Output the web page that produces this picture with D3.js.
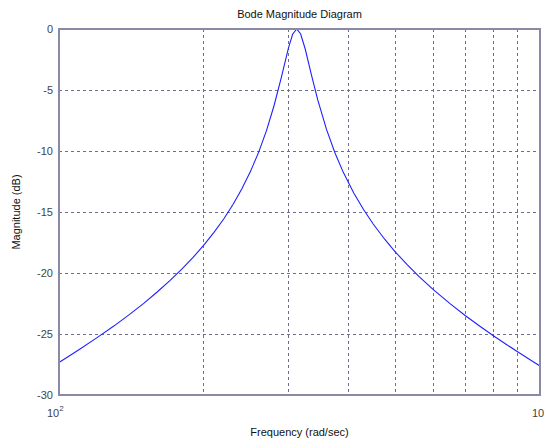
<!DOCTYPE html>
<html>
<head>
<meta charset="utf-8">
<script src="https://cdn.jsdelivr.net/npm/d3@7"></script>
<style>
  html, body { margin: 0; padding: 0; background: #ffffff; }
  svg { display: block; }
  text { font-family: Arial, "Liberation Sans", Helvetica, sans-serif; }
</style>
</head>
<body>
<svg id="chart" width="545" height="442"></svg>
<script>
// Frequency response samples (rad/sec) and magnitude (dB)
const frequency = [100, 110, 120, 130, 140, 150, 160, 170, 180, 190, 200, 210, 220, 230, 240, 250,
  260, 270, 280, 290, 300, 306, 312, 318, 325, 335, 345, 360, 375, 390, 410, 430, 450, 475, 500,
  530, 560, 600, 650, 700, 750, 800, 850, 900, 950, 1000];
const magnitude = [-27.33, -26.29, -25.30, -24.35, -23.41, -22.49, -21.56, -20.63, -19.69, -18.72,
  -17.72, -16.67, -15.57, -14.38, -13.10, -11.69, -10.11, -8.33, -6.27, -3.94, -1.54, -0.43, 0.0,
  -0.41, -1.64, -3.80, -5.79, -8.25, -10.18, -11.75, -13.44, -14.82, -15.98, -17.21, -18.26,
  -19.34, -20.27, -21.36, -22.51, -23.50, -24.37, -25.14, -25.84, -26.48, -27.07, -27.62];

// Axis ticks and labels
const yTicks = [0, -5, -10, -15, -20, -25, -30];
const xGridValues = [200, 300, 400, 500, 600, 700, 800, 900];
const xLabelValues = [100, 1000];
const xLabelBase = ["10", "10"];
const xLabelExp = ["2", ""];

const titleText = "Bode Magnitude Diagram";
const xTitle = "Frequency (rad/sec)";
const yTitle = "Magnitude (dB)";

const svg = d3.select("#chart");
const plotLeft = 59, plotRight = 540, plotTop = 29, plotBottom = 395;

const x = d3.scaleLog().domain([100, 1000]).range([plotLeft, plotRight]);
const y = d3.scaleLinear().domain([-30, 0]).range([plotBottom, plotTop]);

const axisColor = "#8a8aa6";
const gridColor = "#6e6e8c";
const textColor = "#444444";

// Grid lines
const grid = svg.append("g");
grid.selectAll("line.gx").data(xGridValues).join("line")
  .attr("class", "gx")
  .attr("x1", d => x(d)).attr("x2", d => x(d))
  .attr("y1", plotTop).attr("y2", plotBottom)
  .attr("stroke", gridColor).attr("stroke-width", 1)
  .attr("stroke-dasharray", "3,3").attr("shape-rendering", "crispEdges");
grid.selectAll("line.gy").data(yTicks.filter(d => d !== 0 && d !== -30)).join("line")
  .attr("class", "gy")
  .attr("x1", plotLeft).attr("x2", plotRight)
  .attr("y1", d => y(d)).attr("y2", d => y(d))
  .attr("stroke", gridColor).attr("stroke-width", 1)
  .attr("stroke-dasharray", "3,3").attr("shape-rendering", "crispEdges");

// Response curve
const line = d3.line()
  .x((d, i) => x(frequency[i]))
  .y(d => y(d));
svg.append("path")
  .datum(magnitude)
  .attr("d", line)
  .attr("fill", "none")
  .attr("stroke", "#2020ff")
  .attr("stroke-width", 1.1);

// Plot box
svg.append("rect")
  .attr("x", plotLeft).attr("y", plotTop)
  .attr("width", plotRight - plotLeft).attr("height", plotBottom - plotTop)
  .attr("fill", "none").attr("stroke", axisColor).attr("stroke-width", 1.3)
  .attr("shape-rendering", "crispEdges");

// Y tick labels
svg.append("g").selectAll("text").data(yTicks).join("text")
  .attr("x", plotLeft - 6).attr("y", d => y(d))
  .attr("dy", "0.35em")
  .attr("text-anchor", "end")
  .attr("font-size", 11)
  .attr("fill", textColor)
  .text(d => String(d));

// X tick labels as powers of ten (the last one sits against the right edge)
const xl = svg.append("g").selectAll("text").data(xLabelValues).join("text")
  .attr("x", (d, i) => i === 0 ? x(d) - 12 : x(d) - 8).attr("y", 417)
  .attr("text-anchor", "start")
  .attr("font-size", 11)
  .attr("fill", textColor);
xl.append("tspan").text((d, i) => xLabelBase[i]);
xl.filter((d, i) => xLabelExp[i] !== "")
  .append("tspan").attr("dy", -6).attr("font-size", 8).text((d, i) => xLabelExp[0]);

// Titles
svg.append("text")
  .attr("x", (plotLeft + plotRight) / 2).attr("y", 18)
  .attr("text-anchor", "middle").attr("font-size", 11).attr("fill", "#111111")
  .text(titleText);
svg.append("text")
  .attr("x", (plotLeft + plotRight) / 2).attr("y", 436)
  .attr("text-anchor", "middle").attr("font-size", 11).attr("fill", "#111111")
  .text(xTitle);
svg.append("text")
  .attr("transform", `translate(20, ${(plotTop + plotBottom) / 2}) rotate(-90)`)
  .attr("text-anchor", "middle").attr("font-size", 11).attr("fill", "#111111")
  .text(yTitle);
</script>
</body>
</html>
